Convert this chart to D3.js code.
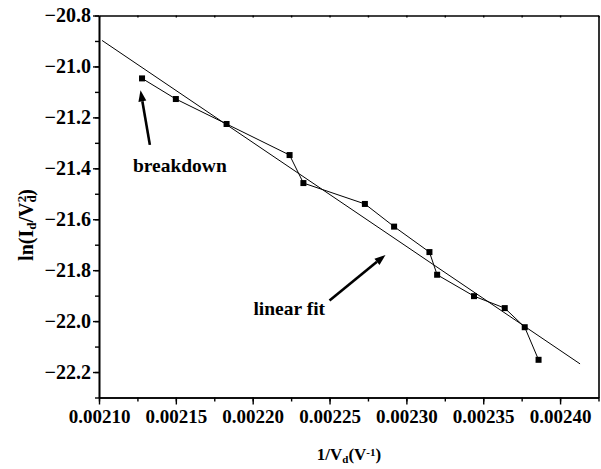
<!DOCTYPE html>
<html><head><meta charset="utf-8">
<script src="https://cdn.jsdelivr.net/npm/d3@7/dist/d3.min.js"></script>
<style>body{margin:0;background:#fff}svg{display:block}svg text{font-family:'Liberation Serif','Times New Roman','DejaVu Serif',serif !important;font-weight:bold;fill:#000}</style>
</head><body><svg id="c" width="601" height="469"></svg>
<script>
// Data
const invV = [0.002128, 0.002150, 0.002183, 0.002224, 0.002233, 0.002273, 0.002292, 0.002315, 0.002320, 0.002344, 0.002364, 0.002377, 0.002386];
const lnIV = [-21.047, -21.128, -21.226, -21.348, -21.458, -21.540, -21.629, -21.729, -21.818, -21.902, -21.949, -22.024, -22.152];
const fitX = [0.002102, 0.002413];
const fitY = [-20.898, -22.168];
const xTicks = [0.00210, 0.00215, 0.00220, 0.00225, 0.00230, 0.00235, 0.00240];
const yTicks = [-20.8, -21.0, -21.2, -21.4, -21.6, -21.8, -22.0, -22.2];
const notes = [
  {text: "breakdown", tx: 0.0021526, ty: -21.414, ax: 0.0021331, ay: -21.308, bx: 0.002127, by: -21.094},
  {text: "linear fit", tx: 0.0022238, ty: -21.976, ax: 0.002250, ay: -21.919, bx: 0.0022864, by: -21.74}
];

const FONT = "'Liberation Serif','Times New Roman','DejaVu Serif',serif";
const L = 99, R = 598.5, T = 15.5, B = 397.5;
const x = d3.scaleLinear().domain([0.0021, 0.002425]).range([L, R]);
const y = d3.scaleLinear().domain([-22.3, -20.8]).range([B, T]);
const svg = d3.select("#c");

const fmtX = d3.format(".5f"), fmtY = d3.format(".1f");
const xMinor = d3.range(0.0021, 0.002426, 0.000025);
const yMinor = d3.range(-22.3, -20.79, 0.1);

const gB = svg.append("g").attr("transform", `translate(0,${B})`)
  .call(d3.axisBottom(x).tickValues(xTicks).tickFormat(fmtX).tickSize(7).tickSizeOuter(0).tickPadding(5));
gB.append("g").call(d3.axisBottom(x).tickValues(xMinor).tickFormat("").tickSize(4).tickSizeOuter(0));
const gL = svg.append("g").attr("transform", `translate(${L},0)`)
  .call(d3.axisLeft(y).tickValues(yTicks).tickFormat(fmtY).tickSize(6).tickSizeOuter(0).tickPadding(2));
gL.append("g").call(d3.axisLeft(y).tickValues(yMinor).tickFormat("").tickSize(4).tickSizeOuter(0));
svg.append("g").attr("transform", `translate(0,${T})`)
  .call(d3.axisBottom(x).tickValues(xMinor).tickFormat("").tickSize(2).tickSizeOuter(0));
svg.append("g").attr("transform", `translate(${R},0)`)
  .call(d3.axisLeft(y).tickValues([]).tickSizeOuter(0));

svg.selectAll("g").attr("font-family", FONT);
svg.selectAll(".domain").attr("stroke", "#000").attr("stroke-width", 1.6);
svg.selectAll(".tick line").attr("stroke", "#000").attr("stroke-width", 1.4);
svg.selectAll(".tick text").attr("font-size", 19).attr("font-family", FONT).attr("font-weight", "bold").attr("fill", "#000");
gL.selectAll(".tick text").attr("font-size", 20);

svg.append("line").attr("x1", x(fitX[0])).attr("y1", y(fitY[0])).attr("x2", x(fitX[1])).attr("y2", y(fitY[1]))
  .attr("stroke", "#000").attr("stroke-width", 1);

const pts = invV.map((v, i) => [v, lnIV[i]]);
svg.append("path").datum(pts).attr("fill", "none").attr("stroke", "#000").attr("stroke-width", 1)
  .attr("d", d3.line().x(d => x(d[0])).y(d => y(d[1])));
svg.selectAll("rect.pt").data(pts).enter().append("rect").attr("class", "pt")
  .attr("x", d => x(d[0]) - 3).attr("y", d => y(d[1]) - 3).attr("width", 6).attr("height", 6).attr("fill", "#000");

notes.forEach(n => {
  const x1 = x(n.ax), y1 = y(n.ay), x2 = x(n.bx), y2 = y(n.by);
  const ang = Math.atan2(y2 - y1, x2 - x1);
  const hl = 11, hw = 4;
  const bxp = x2 - hl * Math.cos(ang), byp = y2 - hl * Math.sin(ang);
  svg.append("line").attr("x1", x1).attr("y1", y1).attr("x2", bxp).attr("y2", byp)
    .attr("stroke", "#000").attr("stroke-width", 2.6);
  const px = -Math.sin(ang), py = Math.cos(ang);
  svg.append("polygon").attr("points", [[x2, y2], [bxp + hw * px, byp + hw * py], [bxp - hw * px, byp - hw * py]].map(p => p.join(",")).join(" "))
    .attr("fill", "#000");
  svg.append("text").attr("x", x(n.tx)).attr("y", y(n.ty)).attr("text-anchor", "middle")
    .attr("font-family", FONT).attr("font-size", 19.5).text(n.text);
});

const xt = svg.append("text").attr("x", 349).attr("y", 460).attr("text-anchor", "middle").attr("font-family", FONT).attr("font-size", 17);
xt.append("tspan").text("1/V");
xt.append("tspan").attr("baseline-shift", "-25%").attr("font-size", 11).text("d");
xt.append("tspan").text("(V");
xt.append("tspan").attr("baseline-shift", "40%").attr("font-size", 11).text("-1");
xt.append("tspan").text(")");

const yt = svg.append("text").attr("transform", "translate(33,225) rotate(-90)").attr("text-anchor", "middle").attr("font-family", FONT).attr("font-size", 20);
yt.append("tspan").text("ln(I");
yt.append("tspan").attr("baseline-shift", "-25%").attr("font-size", 13).text("d");
yt.append("tspan").text("/V");
yt.append("tspan").attr("baseline-shift", "-25%").attr("font-size", 13).text("d");
yt.append("tspan").attr("dx", -7).attr("baseline-shift", "55%").attr("font-size", 13).text("2");
yt.append("tspan").text(")");
</script></body></html>
